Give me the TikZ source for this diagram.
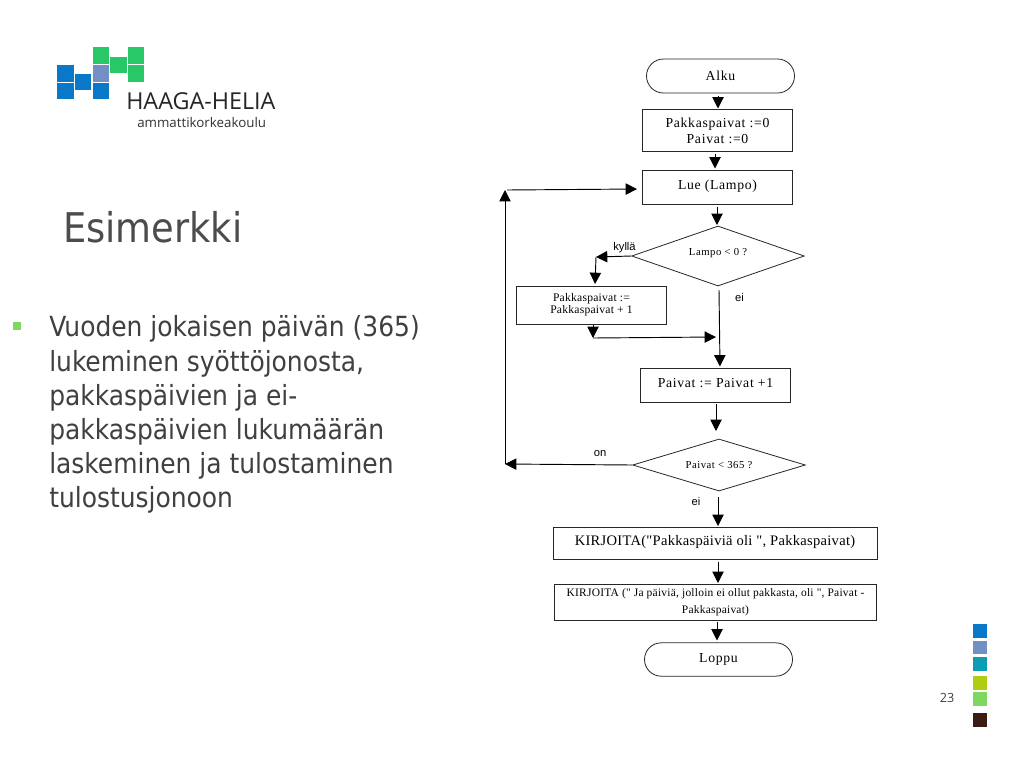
\documentclass[tikz,border=0pt]{standalone}
\usepackage{fontspec}
\setmainfont{Liberation Serif}
\newfontfamily\flowa[LetterSpace=5]{Liberation Serif}
\newfontfamily\flowb[LetterSpace=2]{Liberation Serif}
\newfontfamily\slidefont{DejaVu Sans Condensed}
\newfontfamily\logofont{Open Sans}
\newfontfamily\armfont{Liberation Sans}
\usetikzlibrary{shapes.geometric,shapes.misc,arrows.meta}
\definecolor{hhblue}{HTML}{0A78C8}
\definecolor{hhperi}{HTML}{7390C4}
\definecolor{hhgreen}{HTML}{28C868}
\definecolor{hhteal}{HTML}{0C9DB4}
\definecolor{hhlime}{HTML}{B2CC14}
\definecolor{hhlgreen}{HTML}{7ED860}
\definecolor{hhbrown}{HTML}{3A1C14}
\definecolor{txtgray}{HTML}{404040}
\newcommand{\fsz}[1]{\fontsize{#1}{#1}\selectfont}
\tikzset{
  x=0.75pt,y=-0.75pt,
  boxnode/.style={draw=black!85,line width=0.6pt,minimum width=#1,inner sep=0pt,align=center,font=\flowa\fsz{10.3},text=black},
  termnode/.style={draw=black!85,line width=0.6pt,rounded rectangle,minimum width=111pt,inner sep=0pt,font=\flowa\fsz{10.3},text=black},
  decnode/.style={draw=black!85,line width=0.6pt,diamond,minimum width=129.5pt,inner sep=0pt,font=\flowa\fsz{8},text=black},
  flow/.style={draw=black,line width=0.7pt,-{Triangle[length=8.5pt,width=8.5pt]}},
  lab/.style={font=\armfont\fsz{8.4},text=black,inner sep=0pt},
  body/.style={anchor=base west,inner sep=0pt,font=\slidefont\fsz{20.8},text=txtgray},
}
\begin{document}
\begin{tikzpicture}
\useasboundingbox (0,0) rectangle (1024,768);
\fill[white] (0,0) rectangle (1024,768);
% logo
\foreach \xa/\ya/\xb/\yb/\c in {57/65/74/82/hhblue,57/83/74/99/hhblue,75/74/91/90/hhblue,93/83/109/99/hhblue,93/65/109/82/hhperi,93/47/109/64/hhgreen,110/57/127/73/hhgreen,128/47/144/64/hhgreen,128/65/144/82/hhgreen}
  \fill[\c] (\xa,\ya) rectangle (\xb,\yb);
\node[anchor=base west,inner sep=0pt,font=\logofont\fsz{17.5},text=black!85] (logoa) at (126,109.5) {HAAGA-HELIA};
\node[anchor=base west,inner sep=0pt,font=\logofont\fsz{10},text=black!80] (logob) at (137,127) {ammattikorkeakoulu};
% title and text
\node[anchor=base west,inner sep=0pt,font=\slidefont\fsz{30.7},text=black!70] (title) at (63,242) {Esimerkki};
\fill[hhlgreen] (13,322) rectangle (21,330);
\node[body] (l1) at (49,336) {Vuoden jokaisen päivän (365)};
\node[body] (l2) at (49,371) {lukeminen syöttöjonosta,};
\node[body] (l3) at (49,405) {pakkaspäivien ja ei-};
\node[body] (l4) at (49,439) {pakkaspäivien lukumäärän};
\node[body] (l5) at (49,473) {laskeminen ja tulostaminen};
\node[body] (l6) at (49,507) {tulostusjonoon};
% side squares
\foreach \ya/\yb/\c in {624/638/hhblue,641/654/hhperi,657/671/hhteal,676/690/hhlime,692/706/hhlgreen,713/727/hhbrown}
  \fill[\c] (973,\ya) rectangle (987,\yb);
\node[anchor=base,inner sep=0pt,font=\logofont\fsz{9.5},text=txtgray] (pnum) at (947,702) {23};
% flowchart
\node[termnode,minimum height=25.5pt] (alku) at (720.5,76) {Alku};
\node[boxnode=112pt,minimum height=31pt] (init) at (717.5,130.5) {Pakkaspaivat :=0\\[1.7pt]Paivat :=0};
\node[boxnode=112pt,minimum height=25.5pt] (lue) at (717.5,187) {\raisebox{3.5pt}{Lue (Lampo)}};
\node[decnode,aspect=2.87,minimum height=45pt] (d1) at (718,256) {\raisebox{5.5pt}{Lampo < 0 ?}};
\node[boxnode=112pt,minimum height=28.5pt,font=\flowb\fsz{8.7}] (pp) at (591.5,305) {Pakkaspaivat :=\\[0.4pt]Pakkaspaivat + 1};
\node[boxnode=112pt,minimum height=25.5pt] (pv) at (715.5,385) {\raisebox{3pt}{Paivat := Paivat +1}};
\node[decnode,aspect=3.3,minimum height=39pt] (d2) at (719,465) {Paivat < 365 ?};
\node[boxnode=243pt,minimum height=24pt,font=\flowb\fsz{10.9}] (k1) at (715,543) {\raisebox{3.5pt}{KIRJOITA("Pakkaspäiviä oli ", Pakkaspaivat)}};
\node[boxnode=241pt,minimum height=27.5pt,font=\flowb\fsz{8.6}] (k2) at (715.5,602.5) {KIRJOITA (" Ja päiviä, jolloin ei ollut pakkasta, oli ", Paivat -\\[4.3pt]Pakkaspaivat)};
\node[termnode,minimum height=25pt] (loppu) at (718.5,659.5) {Loppu};
\coordinate (c1) at (596,257);
\coordinate (c2) at (593,338);
\coordinate (c3) at (505,464);
\coordinate (c4) at (505,190);
\draw[flow] (718,96) -- (718,108.5);
\draw[flow] (715,153.5) -- (715,168.5);
\draw[flow] (717,207) -- (717,225);
\draw[flow] (d1.west) -- (c1);
\draw[flow] (c1) -- (595,284);
\draw[flow] (593,325) -- (c2);
\draw[flow] (c2) -- (716,337);
\draw[flow] (719,290) -- (720,366.5);
\draw[flow] (716,404) -- (716,431);
\draw[flow] (d2.west) -- (c3);
\draw[flow] (c3) -- (c4);
\draw[flow] (507,190) -- (637,189);
\draw[flow] (718,497) -- (718,526);
\draw[flow] (718,562) -- (718,583);
\draw[flow] (717,621.5) -- (717,640.5);
\node[lab] (kyl) at (624.5,248) {kyllä};
\node[lab] (ei1) at (739.5,297) {ei};
\node[lab] (on) at (600,453.5) {on};
\node[lab] (ei2) at (696,501) {ei};
\end{tikzpicture}
\end{document}
